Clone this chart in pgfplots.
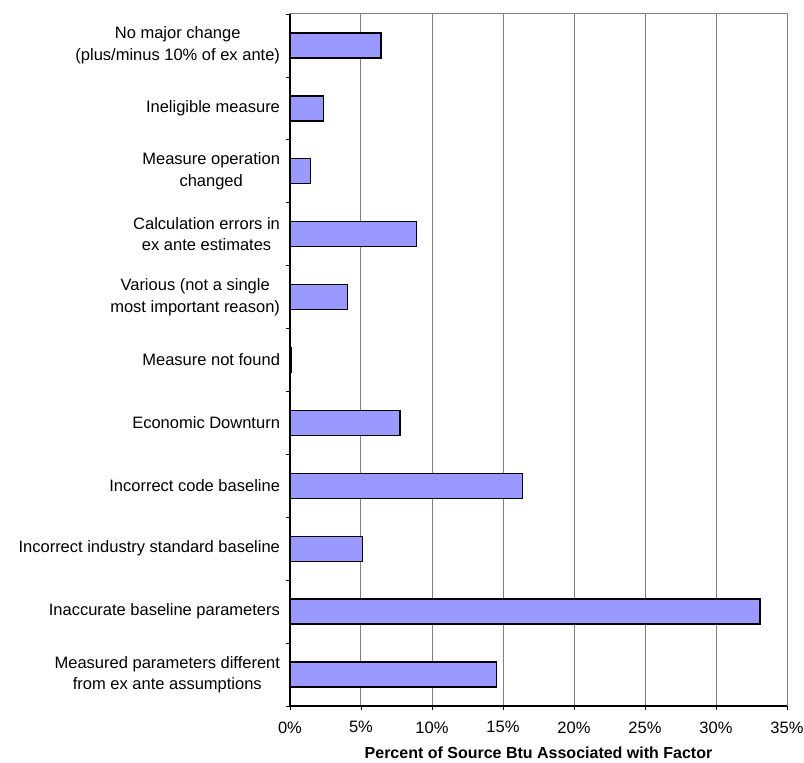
\documentclass[border=0pt]{standalone}
\usepackage{fontspec}
\setmainfont{Liberation Sans}
\usepackage{pgfplots}
\pgfplotsset{compat=1.18}
\definecolor{barblue}{HTML}{9999FF}
\definecolor{gridgray}{HTML}{808080}

% Share of source Btu by main reason for the realisation-rate difference
% (categories listed bottom to top)
\pgfplotstableread{
y   pct
1   14.55
2   33.1
3   5.1
4   16.35
5   7.75
6   0.1
7   4.05
8   8.9
9   1.45
10  2.35
11  6.4
}\factors

\begin{document}
\begin{tikzpicture}
\useasboundingbox (0,0) rectangle (804pt,763pt);
\begin{axis}[
  at={(290pt,57pt)}, anchor=south west,
  scale only axis,
  width=497pt, height=692pt,
  xbar, bar width=25pt,
  xmin=0, xmax=35, ymin=0.5, ymax=11.5,
  xtick={0,5,...,35},
  xticklabel={\pgfmathprintnumber{\tick}\%},
  /pgf/number format/assume math mode=true,
  xtick pos=bottom, ytick pos=left,
  tick align=outside,
  major tick length=4pt,
  ytick={0.5,1.5,...,11.5}, yticklabels={},
  extra y ticks={1,2,...,11},
  extra y tick labels={
    {Measured parameters different\\from ex ante assumptions},
    {Inaccurate baseline parameters},
    {Incorrect industry standard baseline},
    {Incorrect code baseline},
    {Economic Downturn},
    {Measure not found},
    {Various (not a single\\most important reason)},
    {Calculation errors in\\ex ante estimates},
    {Measure operation\\changed},
    {Ineligible measure},
    {No major change\\(plus/minus 10\% of ex ante)}},
  extra y tick style={major tick length=0pt, ymajorgrids=false},
  yticklabel style={align=center, font=\fontsize{16.5}{21.5}\selectfont, xshift=-6.5pt},
  xticklabel style={font=\fontsize{16.5}{20}\selectfont, yshift=-8pt},
  xmajorgrids,
  grid style={gridgray, line width=1pt},
  axis line style={gridgray, line width=1pt},
  tick style={black, line width=0.8pt},
  xlabel={\textbf{Percent of Source Btu Associated with Factor}},
  xlabel style={font=\fontsize{16}{19}\selectfont, inner sep=0pt, yshift=-10.5pt},
  clip=false,
]
\addplot[fill=barblue, draw=black, line width=1.3pt] table[x=pct, y=y] {\factors};
\draw[black, line width=1.2pt] (rel axis cs:0,1) -- (rel axis cs:0,0) -- (rel axis cs:1,0);
\end{axis}
\end{tikzpicture}
\end{document}
